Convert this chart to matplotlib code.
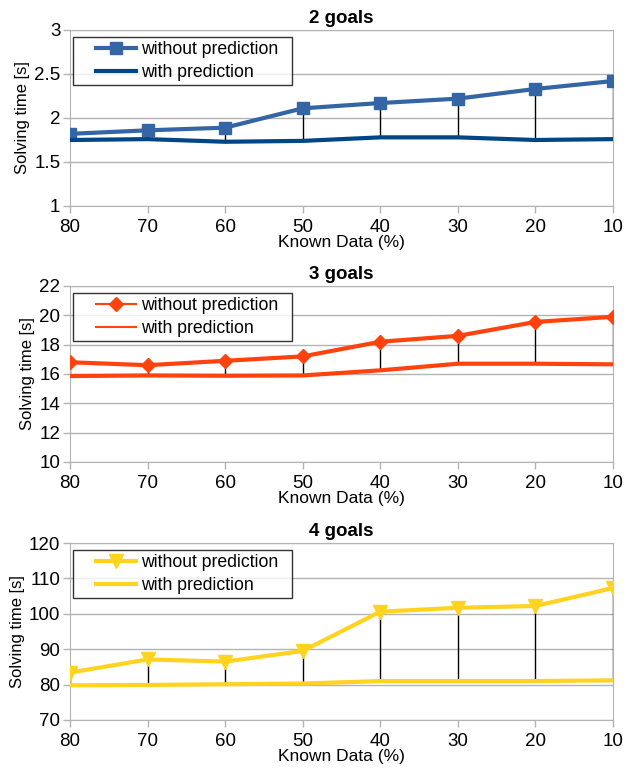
import numpy as np
import matplotlib.pyplot as plt
from matplotlib.legend_handler import HandlerLine2D

plt.rcParams['font.family'] = ['Liberation Sans', 'DejaVu Sans']

known = [80, 70, 60, 50, 40, 30, 20, 10]

g2_without = [1.82, 1.86, 1.89, 2.11, 2.17, 2.22, 2.33, 2.42]
g2_with = [1.75, 1.76, 1.73, 1.74, 1.78, 1.78, 1.75, 1.76]

g3_without = [16.8, 16.6, 16.9, 17.2, 18.2, 18.6, 19.55, 19.9]
g3_with = [15.86, 15.9, 15.88, 15.9, 16.25, 16.7, 16.7, 16.66]

g4_without = [83.4, 87.1, 86.5, 89.5, 100.6, 101.7, 102.2, 107.3]
g4_with = [79.8, 79.9, 80.1, 80.3, 81.0, 81.0, 81.0, 81.2]

panels = [
    ('2 goals', g2_without, g2_with, '#3465a4', '#004586', 's', 9, 3, (1, 3), [1, 1.5, 2, 2.5, 3], ['1', '1.5', '2', '2.5', '3']),
    ('3 goals', g3_without, g3_with, '#ff420e', '#ff420e', 'D', 7, 1.5, (10, 22), list(range(10, 23, 2)), None),
    ('4 goals', g4_without, g4_with, '#ffd320', '#ffd320', 'v', 10, 3, (70, 120), list(range(70, 121, 10)), None),
]


# legend handle drawn only in the right part of its slot (leaves room on the left like LibreOffice)
class ShiftedLine(HandlerLine2D):
    def __init__(self, frac, **kw):
        super().__init__(**kw)
        self.frac = frac

    def create_artists(self, legend, orig_handle, xdescent, ydescent, width, height, fontsize, trans):
        w2 = width * self.frac
        return super().create_artists(legend, orig_handle, xdescent - (width - w2), ydescent,
                                      w2, height, fontsize, trans)


fig = plt.figure(figsize=(6.35, 7.69), dpi=100)
W, H = 635, 769
tops = [30, 286, 543]
bottoms = [206, 462, 720]
left, right = 70, 613

x = np.arange(len(known))
for (title, wo, wi, c1, c2, mk, ms, leg_lw, ylim, yt, ytl), top, bot in zip(panels, tops, bottoms):
    ax = fig.add_axes([left / W, 1 - bot / H, (right - left) / W, (bot - top) / H])
    ax.vlines(x, wi, wo, color='black', lw=1, zorder=2)
    l1, = ax.plot(x, wo, color=c1, lw=3, marker=mk, ms=ms, label='without prediction', zorder=3)
    l2, = ax.plot(x, wi, color=c2, lw=3, label='with prediction', zorder=3)
    ax.set_xlim(0, len(known) - 1)
    ax.set_ylim(*ylim)
    ax.set_yticks(yt)
    if ytl:
        ax.set_yticklabels(ytl)
    ax.set_xticks(x)
    ax.set_xticklabels([str(k) for k in known])
    ax.grid(axis='y', color='#b3b3b3', lw=1)
    ax.set_axisbelow(True)
    for s in ax.spines.values():
        s.set_color('#b3b3b3')
    ax.tick_params(colors='#b3b3b3', labelcolor='black', labelsize=13.5, length=5, width=1)
    ax.tick_params(axis='x', pad=4)
    ax.tick_params(axis='y', pad=2)
    ax.set_title(title, fontsize=13.5, fontweight='bold', pad=5)
    ax.set_xlabel('Known Data (%)', fontsize=12.5, labelpad=0)
    ax.set_ylabel('Solving time [s]', fontsize=12, labelpad=3)
    hm = {l1: ShiftedLine(0.68), l2: ShiftedLine(0.68)}
    leg = ax.legend([l1, l2], ['without prediction  ', 'with prediction'],
                    loc='upper left', bbox_to_anchor=(3 / 543, 1 - 7 / 176), borderaxespad=0,
                    fontsize=12.7, frameon=True, fancybox=False, handler_map=hm,
                    edgecolor='black', handlelength=3.3, borderpad=0.25,
                    labelspacing=0.3, handletextpad=0.3)
    leg.get_frame().set_linewidth(1)
    for ln in leg.get_lines():
        ln.set_linewidth(leg_lw)

fig.savefig('out.png', dpi=100)
